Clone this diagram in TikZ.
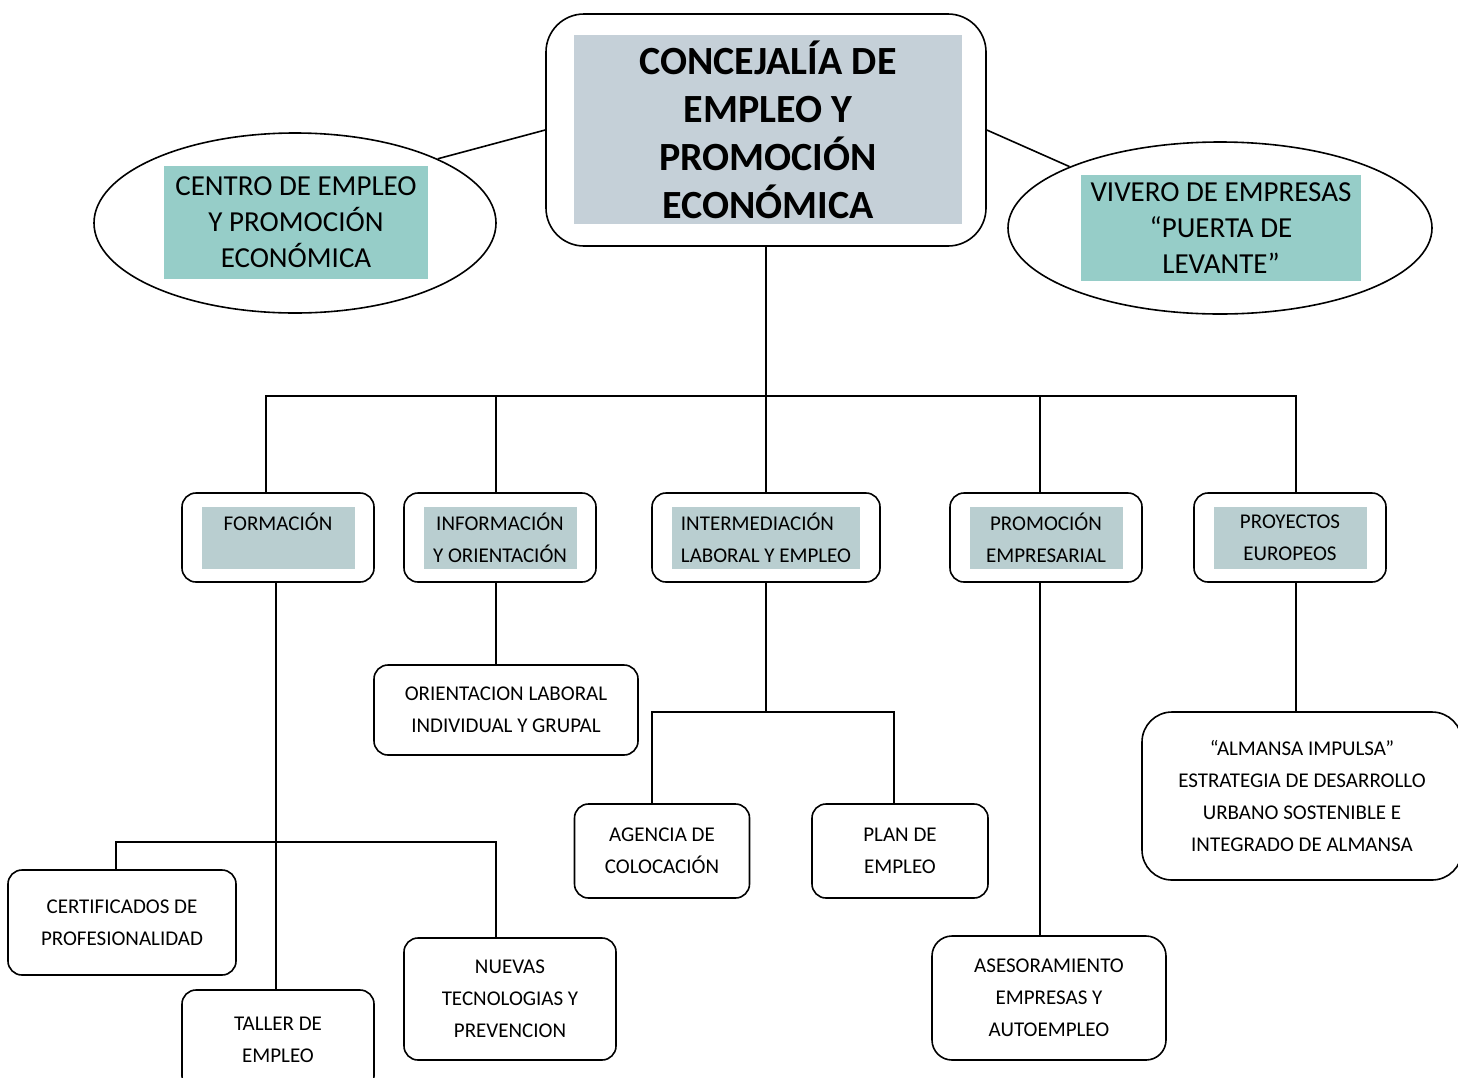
\documentclass[tikz,border=0pt]{standalone}
\usepackage{fontspec}
\setmainfont{Carlito}
\usetikzlibrary{shapes.geometric}
\definecolor{gristitulo}{RGB}{197,208,216}
\definecolor{verdeazul}{RGB}{150,205,200}
\definecolor{grisverde}{RGB}{185,206,208}
\newcommand{\grande}{\fontsize{40}{48}\selectfont\bfseries}
\newcommand{\mediana}{\fontsize{29}{36}\selectfont}
\begin{document}
\begin{tikzpicture}[x=1pt, y=-1pt, line width=1.6pt,
                    every node/.style={inner sep=0pt, align=center,
                                       font=\fontsize{21}{32}\selectfont},
                    box/.style={draw, rounded corners=14pt},
                    oval/.style={draw, ellipse},
                    tag/.style={fill=grisverde, minimum height=62pt}]
    \useasboundingbox (0,0) rectangle (1458,1077);

    \node[box, rounded corners=38pt, minimum width=440pt, minimum height=232pt] (cj) at (766,130) {};
    \node[fill=gristitulo, minimum width=388pt, minimum height=189pt, font=\grande] (cj-t) at (768,129.5)
        {CONCEJALÍA DE\\EMPLEO Y\\PROMOCIÓN\\ECONÓMICA};

    \node[oval, minimum width=402pt, minimum height=180pt] (ce) at (295,223) {};
    \node[fill=verdeazul, minimum width=264pt, minimum height=113pt, font=\mediana] (ce-t) at (296,222.5)
        {CENTRO DE EMPLEO\\Y PROMOCIÓN\\ECONÓMICA};
    \node[oval, minimum width=424pt, minimum height=172pt] (vi) at (1220,228) {};
    \node[fill=verdeazul, minimum width=280pt, minimum height=106pt, font=\mediana] (vi-t) at (1221,228)
        {VIVERO DE EMPRESAS\\“PUERTA DE\\LEVANTE”};
    \draw (cj.west) -- (ce.north east);
    \draw (cj.east) -- (vi.north west);

    \node[box, minimum width=192pt, minimum height=89pt] (fo) at (278,537.5) {};
    \node[tag, minimum width=153pt] (fo-t) at (278,538) {FORMACIÓN\\~};
    \node[box, minimum width=192pt, minimum height=89pt] (io) at (500,537.5) {};
    \node[tag, minimum width=153pt] (io-t) at (500,538) {INFORMACIÓN\\Y ORIENTACIÓN};
    \node[box, minimum width=228pt, minimum height=89pt] (im) at (766,537.5) {};
    \node[tag, minimum width=188pt, align=left] (im-t) at (766,538) {INTERMEDIACIÓN\\LABORAL Y EMPLEO};
    \node[box, minimum width=192pt, minimum height=89pt] (pe) at (1046,537.5) {};
    \node[tag, minimum width=153pt] (pe-t) at (1046,538) {PROMOCIÓN\\EMPRESARIAL};
    \node[box, minimum width=192pt, minimum height=89pt] (pr) at (1290,537.5) {};
    \node[tag, minimum width=153pt] (pr-t) at (1290,538) {PROYECTOS\\EUROPEOS};

    \coordinate (bus) at (766,396);
    \draw (cj) -- (bus);
    \draw (bus) -- (im);
    \draw (bus) -| ([xshift=-12pt]fo.north);
    \draw (bus) -| ([xshift=-4pt]io.north);
    \draw (bus) -| ([xshift=-6pt]pe.north);
    \draw (bus) -| ([xshift=6pt]pr.north);

    \node[box, minimum width=264pt, minimum height=90pt] (ol) at (506,710) {ORIENTACION LABORAL\\INDIVIDUAL Y GRUPAL};
    \draw ([xshift=-4pt]io.south) -- ([xshift=-10pt]ol.north);

    \node[box, minimum width=175pt, minimum height=94pt] (ag) at (662,851) {AGENCIA DE\\COLOCACIÓN};
    \node[box, minimum width=176pt, minimum height=94pt] (pl) at (900,851) {PLAN DE\\EMPLEO};
    \coordinate (ibus) at (766,712);
    \draw (im) -- (ibus);
    \draw ([xshift=-10pt]ag.north) |- (ibus) -| ([xshift=-6pt]pl.north);

    \node[box, minimum width=228pt, minimum height=105pt] (cp) at (122,922.5) {CERTIFICADOS DE\\PROFESIONALIDAD};
    \node[box, minimum width=192pt, minimum height=100pt] (te) at (278,1040) {TALLER DE\\EMPLEO};
    \node[box, minimum width=212pt, minimum height=122pt] (nt) at (510,999) {NUEVAS\\TECNOLOGIAS Y\\PREVENCION};
    \draw ([xshift=-2pt]fo.south) -- ([xshift=-2pt]te.north);
    \coordinate (fbus) at (276,842);
    \draw ([xshift=-6pt]cp.north) |- (fbus) -| ([xshift=-14pt]nt.north);

    \node[box, rounded corners=20pt, minimum width=234pt, minimum height=124pt] (as) at (1049,998) {ASESORAMIENTO\\EMPRESAS Y\\AUTOEMPLEO};
    \draw ([xshift=-6pt]pe.south) -- ([xshift=-9pt]as.north);

    \node[box, rounded corners=30pt, minimum width=320pt, minimum height=168pt] (al) at (1302,796)
        {“ALMANSA IMPULSA”\\ESTRATEGIA DE DESARROLLO\\URBANO SOSTENIBLE E\\INTEGRADO DE ALMANSA};
    \draw ([xshift=6pt]pr.south) -- ([xshift=-6pt]al.north);
\end{tikzpicture}
\end{document}
